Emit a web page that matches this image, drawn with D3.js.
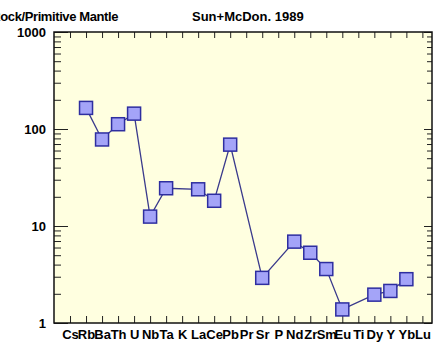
<!DOCTYPE html>
<html>
<head>
<meta charset="utf-8">
<script src="https://cdn.jsdelivr.net/npm/d3@7"></script>
<style>
  body { margin: 0; background: #fff; }
  svg text { font-family: Arial, "Liberation Sans", sans-serif; font-weight: bold; fill: #000; }
</style>
</head>
<body>
<svg id="chart" width="442" height="347"></svg>
<script>
// element order on the spider diagram
const elements = ['Cs', 'Rb', 'Ba', 'Th', 'U', 'Nb', 'Ta', 'K', 'La', 'Ce', 'Pb', 'Pr',
  'Sr', 'P', 'Nd', 'Zr', 'Sm', 'Eu', 'Ti', 'Dy', 'Y', 'Yb', 'Lu'];
// normalized values (null = not analysed)
const sampleValues = [null, 165, 78, 112, 144, 12.5, 24.5, null, 23.9, 18.2, 69, null,
  2.92, null, 6.9, 5.3, 3.6, 1.38, null, 1.96, 2.14, 2.83, null];
const yMajorTicks = [1, 10, 100, 1000];
const titleLeft = 'Rock/Primitive Mantle';
const titleRight = 'Sun+McDon. 1989';

const svg = d3.select('#chart');
const plotL = 54, plotR = 432, plotT = 32, plotB = 323;

const x = d3.scaleLinear().domain([0, 23.6]).range([plotL, plotR]);
const y = d3.scaleLog().domain([1, 1000]).range([plotB, plotT]);

// plot background
svg.append('rect')
  .attr('x', plotL).attr('y', plotT)
  .attr('width', plotR - plotL).attr('height', plotB - plotT)
  .attr('fill', '#ffffe0');

const idx = elements.map((d, i) => i + 1);
const minorTicks = [];
[1, 10, 100].forEach(dec => { for (let k = 2; k <= 9; k++) minorTicks.push(dec * k); });

function styleAxis(g) {
  g.select('.domain').remove();
  g.selectAll('.tick line').attr('stroke', '#222').attr('stroke-width', 1);
}

// bottom axis with element labels
svg.append('g')
  .attr('transform', `translate(0,${plotB})`)
  .call(d3.axisBottom(x).tickValues(idx).tickSize(-7).tickPadding(7)
    .tickFormat((d, i) => elements[i]))
  .call(styleAxis)
  .call(g => g.selectAll('text').style('font-size', '13px').attr('fill', '#000'));

// top axis ticks
svg.append('g')
  .attr('transform', `translate(0,${plotT})`)
  .call(d3.axisTop(x).tickValues(idx).tickSize(-6).tickFormat(''))
  .call(styleAxis);

// left axis: major + minor
svg.append('g')
  .attr('transform', `translate(${plotL},0)`)
  .call(d3.axisLeft(y).tickValues(yMajorTicks).tickSize(-14).tickPadding(8)
    .tickFormat(d3.format('d')))
  .call(styleAxis)
  .call(g => g.selectAll('text').style('font-size', '13px').attr('fill', '#000'));
svg.append('g')
  .attr('transform', `translate(${plotL},0)`)
  .call(d3.axisLeft(y).tickValues(minorTicks).tickSize(-7).tickFormat(''))
  .call(styleAxis);

// right axis: major + minor
svg.append('g')
  .attr('transform', `translate(${plotR},0)`)
  .call(d3.axisRight(y).tickValues(yMajorTicks).tickSize(-8).tickFormat(''))
  .call(styleAxis);
svg.append('g')
  .attr('transform', `translate(${plotR},0)`)
  .call(d3.axisRight(y).tickValues(minorTicks).tickSize(-5).tickFormat(''))
  .call(styleAxis);

// frame
svg.append('rect')
  .attr('x', plotL).attr('y', plotT)
  .attr('width', plotR - plotL).attr('height', plotB - plotT)
  .attr('fill', 'none').attr('stroke', '#111').attr('stroke-width', 1.5);

// data line (joins over missing elements)
const pts = sampleValues.map((v, i) => ({ i: i + 1, v })).filter(d => d.v != null);
svg.append('path')
  .datum(pts)
  .attr('fill', 'none')
  .attr('stroke', '#3a3a8c')
  .attr('stroke-width', 1.3)
  .attr('d', d3.line().x(d => x(d.i)).y(d => y(d.v)));

const s = 13;
svg.selectAll('.mk')
  .data(pts)
  .enter()
  .append('rect')
  .attr('x', d => x(d.i) - s / 2)
  .attr('y', d => y(d.v) - s / 2)
  .attr('width', s).attr('height', s)
  .attr('fill', '#a4a4f8')
  .attr('stroke', '#2e2ea0')
  .attr('stroke-width', 1.5);

// titles
svg.append('text').attr('x', 118).attr('y', 21).attr('text-anchor', 'end')
  .style('font-size', '13px').style('letter-spacing', '-0.4px').text(titleLeft);
svg.append('text').attr('x', 192).attr('y', 21)
  .style('font-size', '13px').text(titleRight);
</script>
</body>
</html>
